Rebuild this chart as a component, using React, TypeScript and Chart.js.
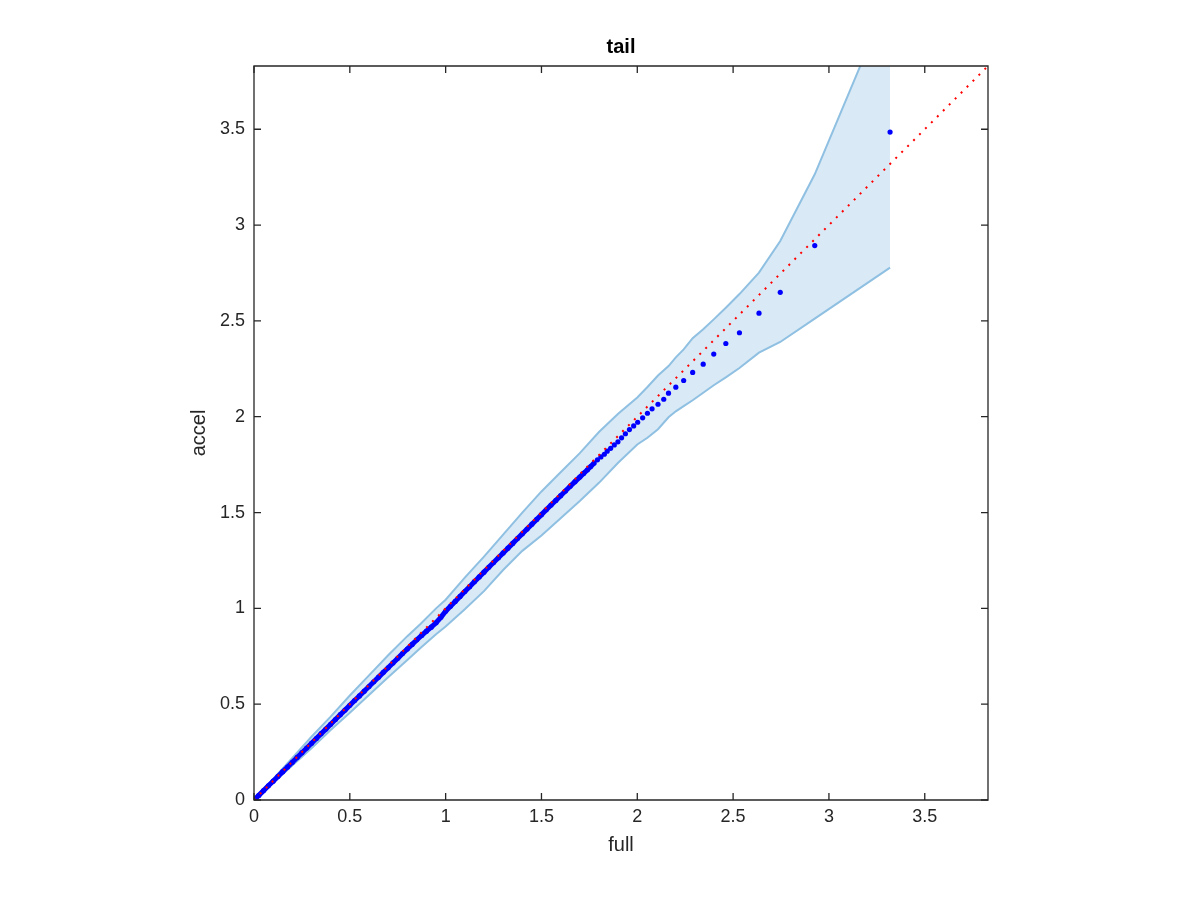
import React, { useEffect, useRef } from 'react';
import { Chart, registerables } from 'chart.js';

Chart.register(...registerables);

// ---------- data ----------
const axisMin = 0;
const axisMax = 3.83;
const tickValues = [0, 0.5, 1, 1.5, 2, 2.5, 3, 3.5];
const tickLabels = ['0', '0.5', '1', '1.5', '2', '2.5', '3', '3.5'];

const titleText = 'tail';
const xLabel = 'full';
const yLabel = 'accel';

// quantile pairs (full, accel) - dense body
const fullBody = [
  0.000, 0.025, 0.050, 0.075, 0.100, 0.125, 0.150, 0.175, 0.200, 0.225,
  0.250, 0.275, 0.300, 0.325, 0.350, 0.375, 0.400, 0.425, 0.450, 0.475,
  0.500, 0.525, 0.550, 0.575, 0.600, 0.625, 0.650, 0.675, 0.700, 0.725,
  0.750, 0.775, 0.800, 0.825, 0.850, 0.875, 0.900, 0.925, 0.950, 0.975,
  1.000, 1.025, 1.050, 1.075, 1.100, 1.125, 1.150, 1.175, 1.200, 1.225,
  1.250, 1.275, 1.300, 1.325, 1.350, 1.375, 1.400, 1.425, 1.450, 1.475,
  1.500, 1.525, 1.550, 1.575, 1.600, 1.625, 1.650, 1.675, 1.700, 1.720,
  1.740, 1.757, 1.775,
];
const accelBody = [
  0.000, 0.024, 0.049, 0.074, 0.098, 0.123, 0.148, 0.172, 0.197, 0.222,
  0.247, 0.271, 0.296, 0.321, 0.346, 0.370, 0.395, 0.420, 0.445, 0.469,
  0.494, 0.519, 0.543, 0.568, 0.592, 0.617, 0.641, 0.666, 0.690, 0.715,
  0.739, 0.764, 0.788, 0.812, 0.836, 0.859, 0.881, 0.902, 0.925, 0.953,
  0.985, 1.011, 1.036, 1.062, 1.088, 1.113, 1.139, 1.164, 1.189, 1.214,
  1.239, 1.264, 1.289, 1.314, 1.339, 1.364, 1.389, 1.414, 1.439, 1.464,
  1.489, 1.514, 1.539, 1.563, 1.588, 1.612, 1.637, 1.661, 1.685, 1.704,
  1.723, 1.740, 1.758,
];

// quantile pairs - sparse upper tail
const fullTail = [
  1.792, 1.810, 1.828, 1.843, 1.861, 1.880, 1.899, 1.918, 1.938, 1.959,
  1.981, 2.002, 2.028, 2.053, 2.077, 2.108, 2.138, 2.163, 2.201, 2.242,
  2.289, 2.344, 2.399, 2.462, 2.533, 2.635, 2.746, 2.926, 3.319,
];
const accelTail = [
  1.775, 1.790, 1.804, 1.820, 1.835, 1.853, 1.869, 1.890, 1.911, 1.933,
  1.952, 1.971, 1.994, 2.018, 2.041, 2.065, 2.091, 2.123, 2.154, 2.189,
  2.231, 2.274, 2.327, 2.382, 2.438, 2.540, 2.649, 2.893, 3.485,
];

// confidence band
const bandFull = [
  0, 0.1, 0.2, 0.3, 0.4, 0.5, 0.6, 0.7, 0.8, 0.87,
  0.95, 1.0, 1.1, 1.2, 1.3, 1.4, 1.5, 1.6, 1.7, 1.8,
  1.9, 2.0, 2.053, 2.108, 2.163, 2.201, 2.242, 2.289, 2.344, 2.399,
  2.462, 2.533, 2.635, 2.746, 2.926, 3.319,
];
const bandUpper = [
  0, 0.11, 0.22, 0.33, 0.435, 0.545, 0.65, 0.755, 0.855, 0.92,
  1.0, 1.045, 1.16, 1.27, 1.385, 1.5, 1.61, 1.71, 1.81, 1.92,
  2.015, 2.1, 2.155, 2.215, 2.264, 2.31, 2.351, 2.41, 2.456, 2.508,
  2.569, 2.64, 2.752, 2.917, 3.265, 4.2,
];
const bandLower = [
  0, 0.09, 0.18, 0.27, 0.365, 0.455, 0.548, 0.64, 0.73, 0.795,
  0.865, 0.905, 0.995, 1.09, 1.2, 1.3, 1.38, 1.47, 1.56, 1.655,
  1.76, 1.855, 1.89, 1.935, 1.997, 2.028, 2.055, 2.086, 2.125, 2.164,
  2.205, 2.254, 2.334, 2.39, 2.512, 2.778,
];

// reference line y = x
const refFull = [0, 3.83];
const refAccel = [0, 3.83];

// ---------- styles ----------
const FONT = "'Liberation Sans', Arial, Helvetica, sans-serif";
const TEXT = '#262626';
const BAND_EDGE = 'rgb(143,192,226)';
const BAND_FILL = 'rgb(217,233,245)';

const zip = (xs: number[], ys: number[]) => xs.map((x, i) => ({ x, y: ys[i] }));

const framePlugin = {
  id: 'matlabFrame',
  afterDatasetsDraw(chart: any) {
    const { ctx, chartArea, scales } = chart;
    const { left, right, top, bottom } = chartArea;
    const xs = scales.x;
    const ys = scales.y;
    ctx.save();
    ctx.strokeStyle = TEXT;
    ctx.lineWidth = 1.3;
    ctx.beginPath();
    ctx.rect(left, top, right - left, bottom - top);
    ctx.stroke();
    const L = 7;
    ctx.beginPath();
    tickValues.forEach((v) => {
      const px = xs.getPixelForValue(v);
      ctx.moveTo(px, bottom);
      ctx.lineTo(px, bottom - L);
      ctx.moveTo(px, top);
      ctx.lineTo(px, top + L);
      const py = ys.getPixelForValue(v);
      ctx.moveTo(left, py);
      ctx.lineTo(left + L, py);
      ctx.moveTo(right, py);
      ctx.lineTo(right - L, py);
    });
    ctx.stroke();
    // title centred over the axes box
    ctx.fillStyle = '#000000';
    ctx.font = `bold 20px ${FONT}`;
    ctx.textAlign = 'center';
    ctx.textBaseline = 'middle';
    ctx.fillText(titleText, (left + right) / 2, top - 19);
    ctx.restore();
  },
};

export default function App() {
  const ref = useRef<HTMLCanvasElement | null>(null);

  useEffect(() => {
    document.body.style.margin = '0';
    const canvas = ref.current;
    if (!canvas) return;
    const chart = new Chart(canvas, {
      type: 'scatter',
      data: {
        datasets: [
          {
            type: 'line',
            label: 'reference',
            data: zip(refFull, refAccel),
            borderColor: '#ff0000',
            borderWidth: 2,
            borderDash: [2, 6.4],
            pointRadius: 0,
            fill: false,
            tension: 0,
            order: 0,
          } as any,
          {
            type: 'scatter',
            label: 'quantiles',
            data: zip(fullBody.concat(fullTail), accelBody.concat(accelTail)),
            backgroundColor: '#0000ff',
            borderWidth: 0,
            pointRadius: 2.6,
            order: 1,
          } as any,
          {
            type: 'line',
            label: 'quantiles body',
            data: zip(fullBody, accelBody),
            borderColor: '#0000ff',
            borderWidth: 5,
            pointRadius: 0,
            fill: false,
            tension: 0,
            order: 1,
          } as any,
          {
            type: 'line',
            label: 'upper',
            data: zip(bandFull, bandUpper),
            borderColor: BAND_EDGE,
            borderWidth: 2,
            backgroundColor: BAND_FILL,
            pointRadius: 0,
            fill: '+1',
            tension: 0,
            clip: 0,
            order: 3,
          } as any,
          {
            type: 'line',
            label: 'lower',
            data: zip(bandFull, bandLower),
            borderColor: BAND_EDGE,
            borderWidth: 2,
            pointRadius: 0,
            fill: false,
            tension: 0,
            clip: 0,
            order: 2,
          } as any,
        ],
      },
      options: {
        responsive: false,
        animation: false,
        events: [],
        layout: { padding: { left: 0, right: 212, top: 66, bottom: 0 } },
        plugins: {
          legend: { display: false },
          tooltip: { enabled: false },
          title: { display: false },
        },
        scales: {
          x: {
            type: 'linear',
            min: axisMin,
            max: axisMax,
            grid: { display: false, drawTicks: false },
            border: { display: false },
            afterBuildTicks: (s: any) => {
              s.ticks = tickValues.map((v) => ({ value: v }));
            },
            afterFit: (s: any) => {
              s.height = 100;
            },
            ticks: {
              color: TEXT,
              padding: 6,
              maxRotation: 0,
              autoSkip: false,
              font: { family: FONT, size: 18 },
              callback: (v: any) => {
                const i = tickValues.indexOf(Number(v));
                return i >= 0 ? tickLabels[i] : '';
              },
            },
            title: {
              display: true,
              text: xLabel,
              color: TEXT,
              font: { family: FONT, size: 20 },
              padding: { top: 0, bottom: 43 },
            },
          },
          y: {
            type: 'linear',
            min: axisMin,
            max: axisMax,
            grid: { display: false, drawTicks: false },
            border: { display: false },
            afterBuildTicks: (s: any) => {
              s.ticks = tickValues.map((v) => ({ value: v }));
            },
            afterFit: (s: any) => {
              s.width = 254;
            },
            ticks: {
              color: TEXT,
              padding: 9,
              autoSkip: false,
              font: { family: FONT, size: 18 },
              callback: (v: any) => {
                const i = tickValues.indexOf(Number(v));
                return i >= 0 ? tickLabels[i] : '';
              },
            },
            title: {
              display: true,
              text: yLabel,
              color: TEXT,
              font: { family: FONT, size: 20 },
              padding: { top: 187, bottom: 0 },
            },
          },
        },
      },
      plugins: [framePlugin],
    } as any);
    return () => chart.destroy();
  }, []);

  return (
    <div style={{ position: 'absolute', left: 0, top: 0, width: 1200, height: 900, background: '#ffffff' }}>
      <canvas ref={ref} width={1200} height={900} style={{ display: 'block', width: 1200, height: 900 }} />
    </div>
  );
}
